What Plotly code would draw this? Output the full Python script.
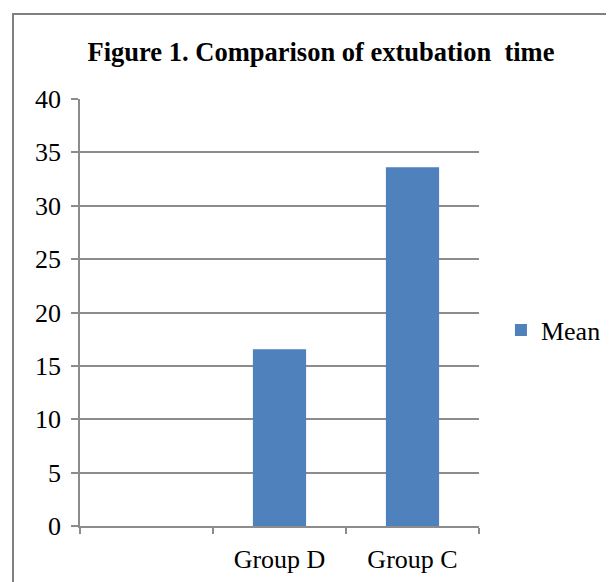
import plotly.graph_objects as go

categories = [" ", "Group D", "Group C"]
mean_values = [None, 16.55, 33.6]
y_ticks = [0, 5, 10, 15, 20, 25, 30, 35, 40]

FONT = "Liberation Serif, Times New Roman, serif"
GRID = "#8c8c8c"

fig = go.Figure()
fig.add_trace(go.Bar(
    x=categories, y=mean_values, name="Mean",
    marker=dict(color="#4F81BD", line=dict(width=0)),
    width=0.4,
))

fig.update_layout(
    width=614, height=582,
    margin=dict(l=72, r=143, t=91, b=64),
    paper_bgcolor="white", plot_bgcolor="white",
    font=dict(family=FONT, size=26, color="black"),
    title=dict(text="<b>Figure 1. Comparison of extubation \u00a0time</b>",
               x=313 / 614, xanchor="center", y=1 - 44 / 582, yanchor="middle",
               font=dict(family=FONT, size=26.5, color="black")),
    showlegend=True,
    legend=dict(x=1.055, xanchor="left", y=0.459, yanchor="middle",
                font=dict(family=FONT, size=26, color="black"),
                bgcolor="rgba(0,0,0,0)", itemwidth=30),
    xaxis=dict(type="category", categoryorder="array", categoryarray=categories,
               range=[-0.5, 2.5], tickson="boundaries", ticks="outside",
               ticklen=6, tickcolor=GRID, tickwidth=1.5,
               showline=True, linecolor=GRID, linewidth=1.5,
               showgrid=False, tickfont=dict(family=FONT, size=26),
               ticklabelstandoff=9),
    yaxis=dict(range=[0, 40], tickvals=y_ticks, ticks="outside", ticklen=7,
               tickcolor=GRID, tickwidth=1.5,
               showline=True, linecolor=GRID, linewidth=1.5,
               showgrid=True, gridcolor=GRID, gridwidth=1.5,
               zeroline=False, tickfont=dict(family=FONT, size=26),
               ticklabelstandoff=5),
    shapes=[dict(type="rect", xref="paper", yref="paper",
                 x0=(13 - 80) / 399, x1=(640 - 80) / 399,
                 y0=(526 - 600) / 427, y1=(526 - 14) / 427,
                 line=dict(color="#808080", width=2), fillcolor="rgba(0,0,0,0)",
                 layer="below")],
)

fig.write_html("out.html")
